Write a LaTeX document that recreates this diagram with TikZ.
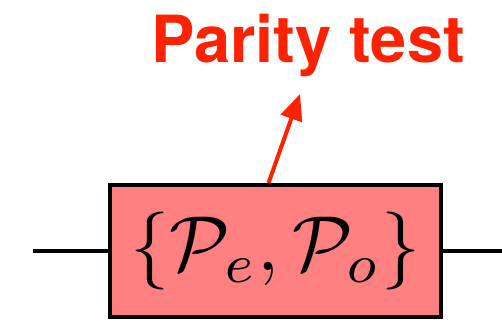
\documentclass[tikz,border=0pt]{standalone}
\usepackage{amsmath,amssymb}
\usepackage{fontspec}
\newfontfamily\headfont{TeX Gyre Heros}
\usetikzlibrary{arrows.meta,positioning,calc}
\definecolor{testred}{RGB}{255,34,0}
\definecolor{boxfill}{RGB}{255,128,128}

\begin{document}
\begin{tikzpicture}[x=1pt,y=1pt,
    wire/.style={line width=4pt},
    gatebox/.style={draw, line width=4pt, fill=boxfill, inner sep=0pt,
      minimum width=331pt, minimum height=132pt},
    pointer/.style={-{Triangle[length=26pt,width=22pt]}, line width=4pt, testred}]
    \useasboundingbox (0,0) rectangle (502,326);
    % Wire ends
    \coordinate (win) at (33,75);
    \coordinate (wout) at (502,75);
    % Gate
    \node[gatebox] (gate) at (275.5,75)
      {\scalebox{7.8}{$\{\mathcal{P}_e,\mathcal{P}_o\}$}};
    \draw[wire] (win) -- (gate.west);
    \draw[wire] (gate.east) -- (wout);
    % Label
    \node[testred, font=\headfont\bfseries\fontsize{65}{78}\selectfont, inner sep=0pt]
      (title) at (308,281) {Parity test};
    \coordinate (tip) at (300,232);
    \draw[pointer] ([xshift=-7pt]gate.north) -- (tip);
\end{tikzpicture}
\end{document}
